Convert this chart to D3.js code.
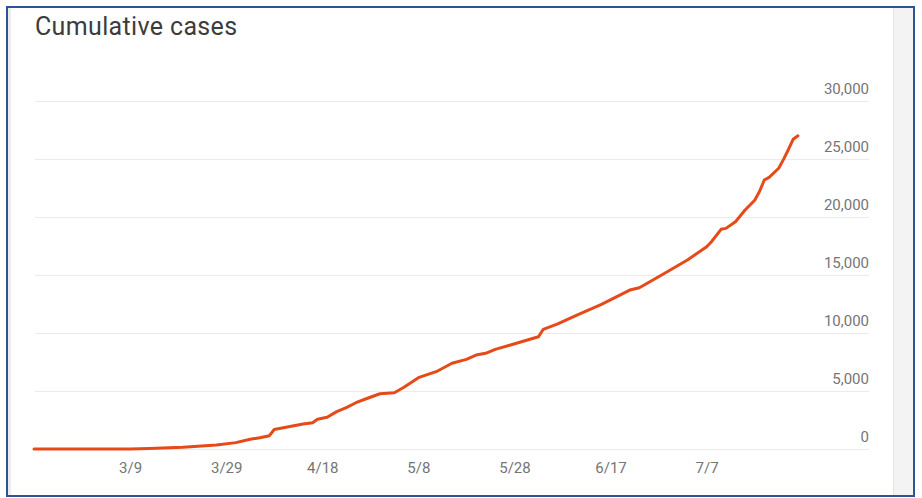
<!DOCTYPE html>
<html>
<head>
<meta charset="utf-8">
<script src="https://cdn.jsdelivr.net/npm/d3@7"></script>
<style>
  html, body { margin: 0; padding: 0; background: #ffffff; }
  svg { display: block; }
</style>
</head>
<body>
<script>
// ---- Data ----
const dates = [
  "2020-02-18","2020-03-01","2020-03-09","2020-03-13","2020-03-20","2020-03-27","2020-03-31",
  "2020-04-03","2020-04-05","2020-04-07","2020-04-08","2020-04-11","2020-04-14","2020-04-16",
  "2020-04-17","2020-04-19","2020-04-21","2020-04-23","2020-04-25","2020-04-27","2020-04-30",
  "2020-05-03","2020-05-05","2020-05-08","2020-05-12","2020-05-15","2020-05-18","2020-05-20",
  "2020-05-22","2020-05-24","2020-05-27","2020-05-30","2020-06-02","2020-06-03","2020-06-06",
  "2020-06-10","2020-06-15","2020-06-21","2020-06-23","2020-06-28","2020-07-03","2020-07-07",
  "2020-07-08","2020-07-10","2020-07-11","2020-07-13","2020-07-15","2020-07-17","2020-07-18",
  "2020-07-19","2020-07-20","2020-07-22","2020-07-23","2020-07-24","2020-07-25","2020-07-26"
];
const cumulativeCases = [
  0, 0, 10, 50, 150, 350, 550,
  840, 970, 1150, 1680, 1920, 2150, 2270,
  2560, 2730, 3220, 3560, 3990, 4310, 4760,
  4850, 5320, 6150, 6720, 7390, 7730, 8100,
  8250, 8590, 8940, 9310, 9680, 10320, 10780,
  11550, 12450, 13700, 13900, 15090, 16290, 17440,
  17870, 18940, 19020, 19590, 20600, 21450, 22200,
  23190, 23420, 24200, 24970, 25800, 26700, 27000
];
const xTickDates = ["2020-03-09","2020-03-29","2020-04-18","2020-05-08","2020-05-28","2020-06-17","2020-07-07"];
const xTickLabels = ["3/9","3/29","4/18","5/8","5/28","6/17","7/7"];
const yTickValues = [0, 5000, 10000, 15000, 20000, 25000, 30000];
const yTickLabels = ["0","5,000","10,000","15,000","20,000","25,000","30,000"];
const chartTitle = "Cumulative cases";

// ---- Drawing ----
const W = 922, H = 498;
const parse = d3.utcParse("%Y-%m-%d");
const series = dates.map((d, i) => ({ date: parse(d), value: cumulativeCases[i] }));

const svg = d3.select("body").append("svg").attr("width", W).attr("height", H);

// background & frame
svg.append("rect").attr("x", 0).attr("y", 0).attr("width", W).attr("height", H).attr("fill", "#ffffff");
svg.append("rect").attr("x", 893).attr("y", 8).attr("width", 21).attr("height", 488).attr("fill", "#f3f3f3");
svg.append("line").attr("x1", 893.5).attr("x2", 893.5).attr("y1", 8).attr("y2", 496).attr("stroke", "#e4e4e4").attr("stroke-width", 1);
svg.append("rect").attr("x", 8).attr("y", 8).attr("width", 3).attr("height", 488).attr("fill", "#ececec");

const x = d3.scaleUtc()
  .domain([parse("2020-02-18"), parse("2020-08-10")])
  .range([34, 870]);
const y = d3.scaleLinear().domain([0, 30000]).range([449, 101]);

const font = "Roboto, 'Noto Sans', Arial, sans-serif";

// title
svg.append("text")
  .attr("x", 35).attr("y", 35)
  .attr("font-family", font).attr("font-size", 25)
  .attr("letter-spacing", 0.35)
  .attr("fill", "#3c3c3c")
  .text(chartTitle);

// gridlines + y labels (right side)
const yAxis = d3.axisRight(y)
  .tickValues(yTickValues)
  .tickSize(-(869 - 35))
  .tickFormat((d, i) => yTickLabels[i]);
const gy = svg.append("g").attr("transform", "translate(869,0)").call(yAxis);
gy.select(".domain").remove();
gy.selectAll(".tick line").attr("stroke", "#ebebeb").attr("stroke-width", 1);
gy.selectAll(".tick text")
  .attr("x", 0).attr("dy", 0).attr("y", -8)
  .attr("text-anchor", "end")
  .attr("font-family", font).attr("font-size", 15)
  .attr("fill", "#757575");

// x labels
const xAxis = d3.axisBottom(x)
  .tickValues(xTickDates.map(parse))
  .tickSize(0)
  .tickFormat((d, i) => xTickLabels[i]);
const gx = svg.append("g").attr("transform", "translate(0,449)").call(xAxis);
gx.select(".domain").remove();
gx.selectAll(".tick text")
  .attr("dy", 0).attr("y", 24)
  .attr("font-family", font).attr("font-size", 15)
  .attr("fill", "#757575");

// line
const line = d3.line().x(d => x(d.date)).y(d => y(d.value));
svg.append("path")
  .datum(series)
  .attr("d", line)
  .attr("fill", "none")
  .attr("stroke", "#e64a19")
  .attr("stroke-width", 3)
  .attr("stroke-linejoin", "round")
  .attr("stroke-linecap", "round");

// outer border
svg.append("rect").attr("x", 7).attr("y", 7).attr("width", 907).attr("height", 489)
  .attr("fill", "none").attr("stroke", "#2f5496").attr("stroke-width", 2);
</script>
</body>
</html>
